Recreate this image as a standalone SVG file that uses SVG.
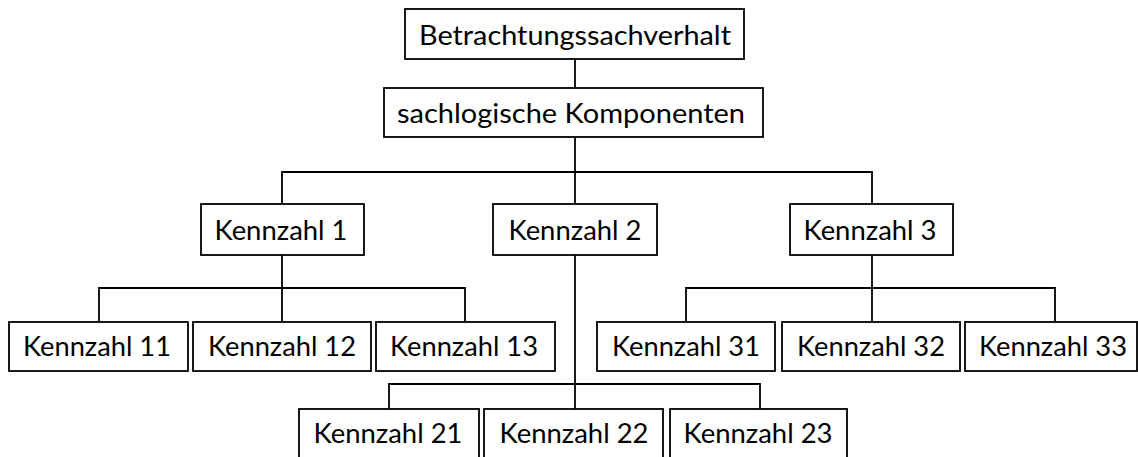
<svg xmlns="http://www.w3.org/2000/svg" width="1138" height="457" viewBox="0 0 1138 457">
  <style>
    .box { fill: #ffffff; stroke: #000000; stroke-width: 1.8; }
    .lbl { font-family: Lato, "Open Sans", "Liberation Sans", sans-serif; font-size: 26px; fill: #000000; text-anchor: middle; }
    .wire { fill: none; stroke: #000000; stroke-width: 1.8; }
  </style>
  <rect width="1138" height="457" fill="#ffffff"/>

  <!-- connectors -->
  <g id="connectors" class="wire">
    <path d="M575 59 V88"/>
    <path d="M575 137 V409"/>
    <path d="M282 204 V172 H872 V204"/>
    <path d="M282 255 V322"/>
    <path d="M99 322 V288 H465 V322"/>
    <path d="M872 255 V322"/>
    <path d="M686 322 V288 H1055 V322"/>
    <path d="M389 409 V384 H760 V409"/>
  </g>

  <!-- top level -->
  <g id="n-betrachtung">
    <rect class="box" x="405" y="9" width="339" height="50"/>
    <text class="lbl" x="575" y="45" textLength="312" lengthAdjust="spacingAndGlyphs">Betrachtungssachverhalt</text>
  </g>
  <g id="n-komponenten">
    <rect class="box" x="384" y="88" width="379" height="49"/>
    <text class="lbl" x="571" y="123" textLength="348" lengthAdjust="spacingAndGlyphs">sachlogische Komponenten</text>
  </g>

  <!-- second level -->
  <g id="n-k1">
    <rect class="box" x="201" y="204" width="163" height="51"/>
    <text class="lbl" x="281" y="240" textLength="133" lengthAdjust="spacingAndGlyphs">Kennzahl 1</text>
  </g>
  <g id="n-k2">
    <rect class="box" x="493" y="204" width="164" height="51"/>
    <text class="lbl" x="575" y="240" textLength="133" lengthAdjust="spacingAndGlyphs">Kennzahl 2</text>
  </g>
  <g id="n-k3">
    <rect class="box" x="790" y="204" width="163" height="51"/>
    <text class="lbl" x="870" y="240" textLength="133" lengthAdjust="spacingAndGlyphs">Kennzahl 3</text>
  </g>

  <!-- third level under Kennzahl 1 -->
  <g id="n-k11">
    <rect class="box" x="9" y="322" width="179" height="49"/>
    <text class="lbl" x="97" y="356" textLength="148" lengthAdjust="spacingAndGlyphs">Kennzahl 11</text>
  </g>
  <g id="n-k12">
    <rect class="box" x="193" y="322" width="178" height="49"/>
    <text class="lbl" x="282" y="356" textLength="148" lengthAdjust="spacingAndGlyphs">Kennzahl 12</text>
  </g>
  <g id="n-k13">
    <rect class="box" x="376" y="322" width="179" height="49"/>
    <text class="lbl" x="464" y="356" textLength="148" lengthAdjust="spacingAndGlyphs">Kennzahl 13</text>
  </g>

  <!-- third level under Kennzahl 3 -->
  <g id="n-k31">
    <rect class="box" x="597" y="322" width="178" height="49"/>
    <text class="lbl" x="686" y="356" textLength="148" lengthAdjust="spacingAndGlyphs">Kennzahl 31</text>
  </g>
  <g id="n-k32">
    <rect class="box" x="782" y="322" width="178" height="49"/>
    <text class="lbl" x="871" y="356" textLength="148" lengthAdjust="spacingAndGlyphs">Kennzahl 32</text>
  </g>
  <g id="n-k33">
    <rect class="box" x="965" y="322" width="172" height="49"/>
    <text class="lbl" x="1053" y="356" textLength="148" lengthAdjust="spacingAndGlyphs">Kennzahl 33</text>
  </g>

  <!-- third level under Kennzahl 2 -->
  <g id="n-k21">
    <rect class="box" x="299" y="409" width="180" height="60"/>
    <text class="lbl" x="388" y="443" textLength="149" lengthAdjust="spacingAndGlyphs">Kennzahl 21</text>
  </g>
  <g id="n-k22">
    <rect class="box" x="484" y="409" width="179" height="60"/>
    <text class="lbl" x="574" y="443" textLength="149" lengthAdjust="spacingAndGlyphs">Kennzahl 22</text>
  </g>
  <g id="n-k23">
    <rect class="box" x="670" y="409" width="177" height="60"/>
    <text class="lbl" x="758" y="443" textLength="149" lengthAdjust="spacingAndGlyphs">Kennzahl 23</text>
  </g>
</svg>
